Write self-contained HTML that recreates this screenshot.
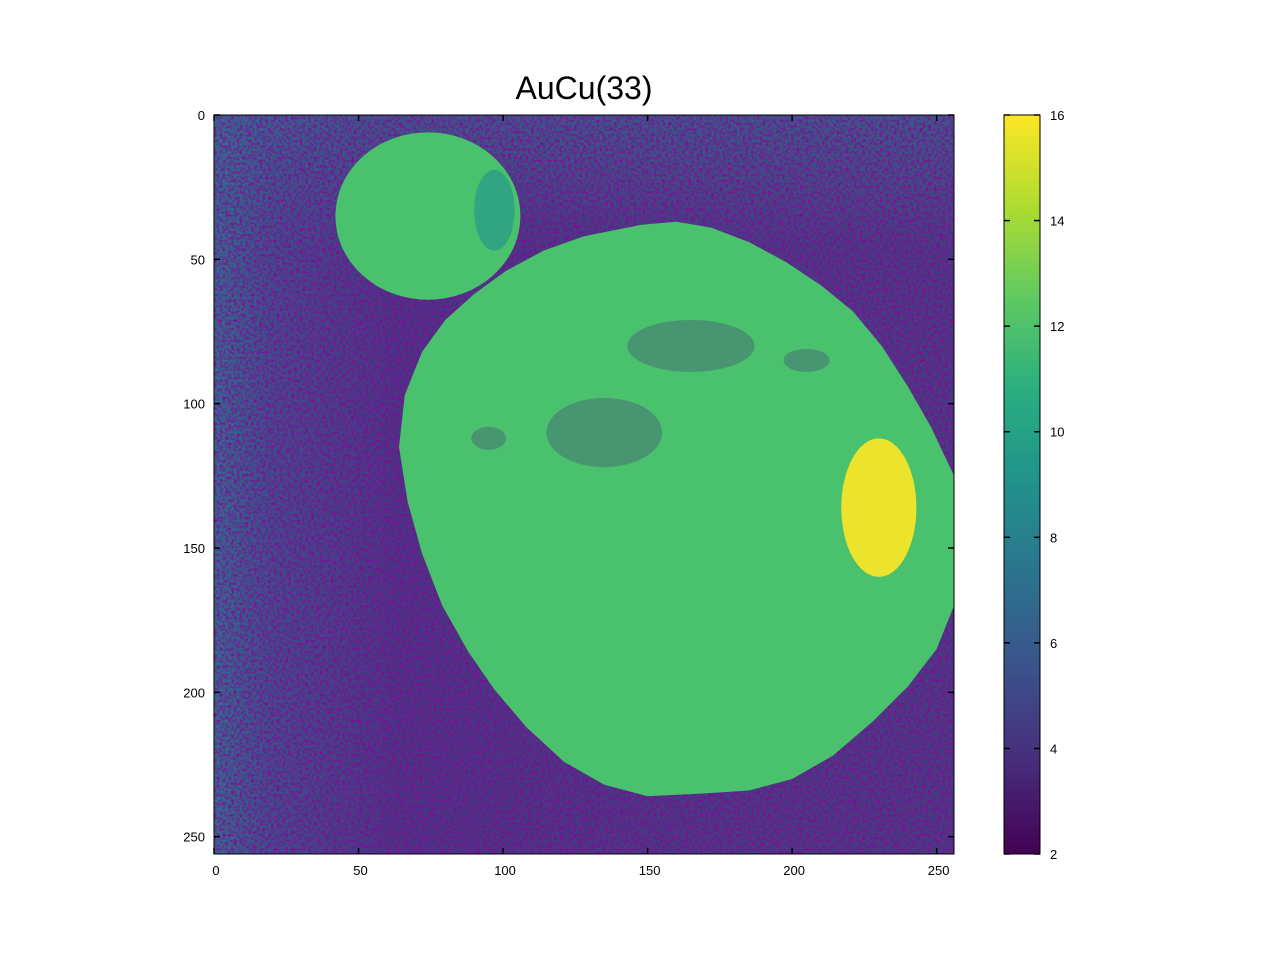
<!DOCTYPE html>
<html><head><meta charset="utf-8"><style>
body{margin:0;background:#fff;}
svg text{font-family:"Liberation Sans",sans-serif;}
</style></head><body>
<svg id="fig" width="1280" height="960" viewBox="0 0 1280 960">
<defs>
<linearGradient id="viridis" x1="0" y1="1" x2="0" y2="0">
<stop offset="0" stop-color="#440154"/><stop offset="0.125" stop-color="#472d7b"/>
<stop offset="0.25" stop-color="#3b528b"/><stop offset="0.375" stop-color="#2c728e"/>
<stop offset="0.5" stop-color="#21918c"/><stop offset="0.625" stop-color="#28ae80"/>
<stop offset="0.75" stop-color="#5ec962"/><stop offset="0.875" stop-color="#addc30"/>
<stop offset="1" stop-color="#fde725"/></linearGradient>
<linearGradient id="bgleft" x1="0" y1="0" x2="1" y2="0">
<stop offset="0" stop-color="#2f6c8c"/><stop offset="0.08" stop-color="#3a4f88"/><stop offset="0.25" stop-color="#423a80"/><stop offset="1" stop-color="#41407f"/></linearGradient>
<linearGradient id="bgtop" x1="0" y1="0" x2="0" y2="1">
<stop offset="0" stop-color="#2f6f8c" stop-opacity="0.6"/><stop offset="0.18" stop-color="#2f6f8c" stop-opacity="0"/></linearGradient>
<clipPath id="plotclip"><rect x="214" y="115" width="740" height="739"/></clipPath>
<filter id="noise"><feTurbulence type="fractalNoise" baseFrequency="0.35" numOctaves="1" seed="3"/><feColorMatrix values="0 0 0 0 0.27  0 0 0 0 0.0  0 0 0 0 0.33  0 0 0 -2.2 1.35"/><feComposite in2="SourceGraphic" operator="in"/></filter>
</defs>
<text x="584" y="99" font-size="32" text-anchor="middle">AuCu(33)</text>
<g id="plot" clip-path="url(#plotclip)"></g>
<rect x="214" y="115" width="740" height="739" fill="none" stroke="#000" stroke-width="1"/>
<g id="axes"></g>
<rect x="1004" y="115" width="36" height="739" fill="url(#viridis)" stroke="#000" stroke-width="1"/>
<g id="cbar"></g>
</svg>
<script>
const xTicks=[0,50,100,150,200,250];
const yTicks=[0,50,100,150,200,250];
const cTicks=[2,4,6,8,10,12,14,16];
// regions in data coords (column, row)
const smallCircle=[74,35,32,29]; // cx, cy, rx, ry
const tealPatch=[97,33,7,14];
const bigBlob=[[148,38],[160,37],[172,39],[185,44],[198,51],[210,59],[221,68],[231,80],[240,94],[248,108],[256,125],[256,170],[250,185],[240,198],[228,210],[214,222],[200,230],[185,234],[170,235],[150,236],[135,232],[121,224],[108,212],[97,199],[88,186],[79,170],[72,152],[67,134],[64,115],[66,97],[72,82],[80,71],[90,62],[101,54],[114,47],[128,42]];
const yellowBlob=[230,136,13,24];
const darkPatch=[[135,110,20,12],[205,85,8,4],[95,112,6,4],[165,80,22,9]];
const vmin=2,vmax=16;
const X0=214,X1=954,Y0=115,Y1=854,N=256;
const sx=v=>X0+v*(X1-X0)/N, sy=v=>Y0+v*(Y1-Y0)/N;
const kx=(X1-X0)/N, ky=(Y1-Y0)/N;
const ns="http://www.w3.org/2000/svg";
function mk(t,a,p){const e=document.createElementNS(ns,t);for(const k in a)e.setAttribute(k,a[k]);p.appendChild(e);return e;}
const plot=document.getElementById('plot');
let e;
e=mk('rect',{x:X0,y:Y0,width:X1-X0,height:Y1-Y0,fill:'url(#bgleft)'},plot);

e=mk('rect',{x:X0,y:Y0,width:X1-X0,height:Y1-Y0,fill:'url(#bgtop)'},plot);

e=mk('rect',{x:X0,y:Y0,width:X1-X0,height:Y1-Y0,fill:'#440154',filter:'url(#noise)'},plot);

const green='#4ac16d';
e=mk('ellipse',{cx:sx(smallCircle[0]),cy:sy(smallCircle[1]),rx:smallCircle[2]*kx,ry:smallCircle[3]*ky,fill:green},plot);

e=mk('ellipse',{cx:sx(tealPatch[0]),cy:sy(tealPatch[1]),rx:tealPatch[2]*kx,ry:tealPatch[3]*ky,fill:'#27978b',opacity:0.7},plot);

e=mk('polygon',{points:bigBlob.map(p=>sx(p[0])+','+sy(p[1])).join(' '),fill:green},plot);

darkPatch.forEach(d=>{
 const g=mk('ellipse',{cx:sx(d[0]),cy:sy(d[1]),rx:d[2]*kx,ry:d[3]*ky,fill:'#46337e',opacity:0.3},plot);
 
 
});
e=mk('ellipse',{cx:sx(yellowBlob[0]),cy:sy(yellowBlob[1]),rx:yellowBlob[2]*kx,ry:yellowBlob[3]*ky,fill:'#fde725',opacity:0.9},plot);

const axes=document.getElementById('axes');
xTicks.forEach(v=>{
 const x=sx(v);
 mk('line',{x1:x,y1:Y1,x2:x,y2:Y1-6,stroke:'#000','stroke-width':1.5},axes);
 mk('line',{x1:x,y1:Y0,x2:x,y2:Y0+6,stroke:'#000','stroke-width':1.5},axes);
 const t=mk('text',{x:x+2,y:Y1+21,'font-size':13,'text-anchor':'middle'},axes);t.textContent=v;
 
 
});
yTicks.forEach(v=>{
 const y=sy(v);
 mk('line',{x1:X0,y1:y,x2:X0+6,y2:y,stroke:'#000','stroke-width':1.5},axes);
 mk('line',{x1:X1,y1:y,x2:X1-6,y2:y,stroke:'#000','stroke-width':1.5},axes);
 const t=mk('text',{x:X0-9,y:y+5,'font-size':13,'text-anchor':'end'},axes);t.textContent=v;
 
 
});
const cb=document.getElementById('cbar');
cTicks.forEach(v=>{
 const y=Y1-(v-vmin)/(vmax-vmin)*(Y1-Y0);
 mk('line',{x1:1040,y1:y,x2:1034,y2:y,stroke:'#000','stroke-width':1.5},cb);
 mk('line',{x1:1004,y1:y,x2:1010,y2:y,stroke:'#000','stroke-width':1.5},cb);
 const t=mk('text',{x:1050,y:y+5,'font-size':13},cb);t.textContent=v;
 
 
});
</script>
</body></html>
